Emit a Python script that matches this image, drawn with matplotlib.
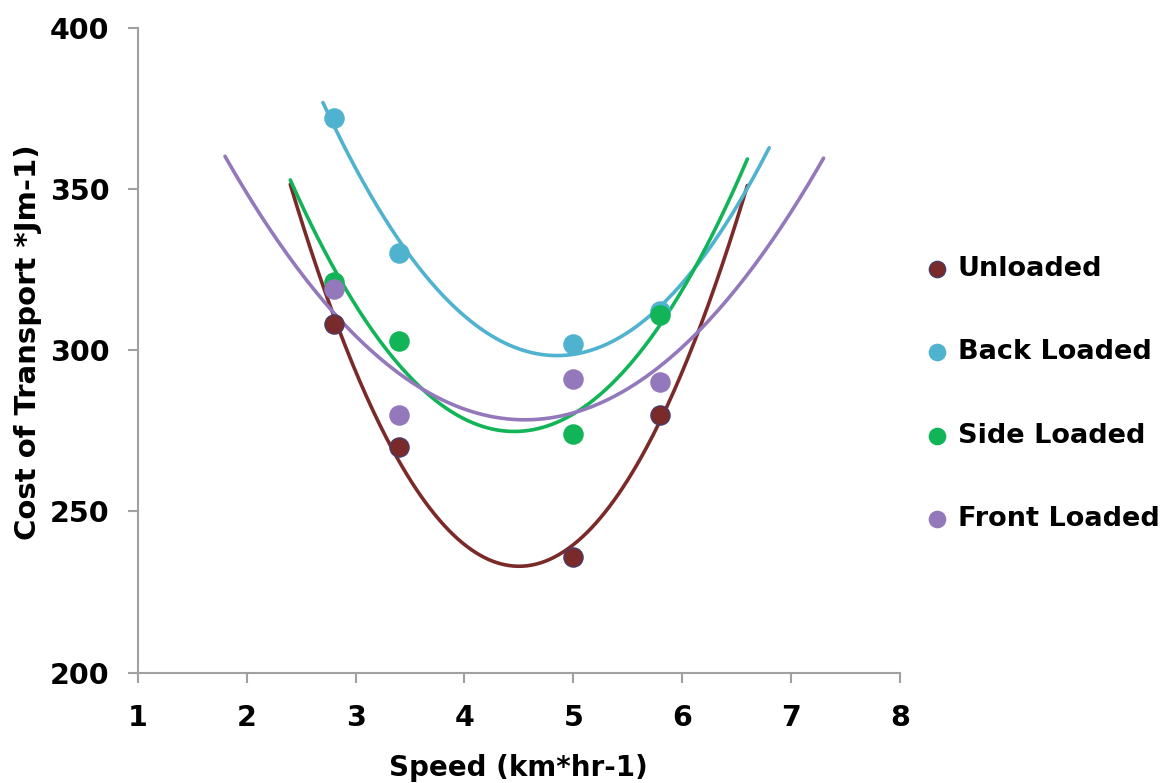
import numpy as np
import matplotlib
matplotlib.use("Agg")
import matplotlib.pyplot as plt

# ---- data ----
series_names = ["Unloaded", "Back Loaded", "Side Loaded", "Front Loaded"]
speed = [2.8, 3.4, 5.0, 5.8]
unloaded = [308, 270, 236, 280]
back_loaded = [372, 330, 302, 312]
side_loaded = [321, 303, 274, 311]
front_loaded = [319, 280, 291, 290]
# trendline extent (speed) for each series
trend_start = [2.4, 2.7, 2.4, 1.8]
trend_end = [6.6, 6.8, 6.6, 7.3]
x_ticks = [1, 2, 3, 4, 5, 6, 7, 8]
y_ticks = [200, 250, 300, 350, 400]

colors = ["#7a2a28", "#4fb3cf", "#12b458", "#9379bb"]
edge_colors = ["#4a3a6a", "#4fb3cf", "#12b458", "#9379bb"]

plt.rcParams['font.family'] = ['DejaVu Sans']
fig = plt.figure(figsize=(11.72, 7.83), dpi=100)
ax = fig.add_axes([0.1177, 0.1409, 0.650, 0.8237])

all_vals = [unloaded, back_loaded, side_loaded, front_loaded]
for i in range(4):
    vals = all_vals[i]
    coef = np.polyfit(speed, vals, 2)
    xs = np.linspace(trend_start[i], trend_end[i], 200)
    ax.plot(xs, np.polyval(coef, xs), color=colors[i], lw=2.6, zorder=2,
            solid_capstyle='round')
for i in range(4):
    ax.scatter(speed, all_vals[i], s=190, color=colors[i], edgecolors=edge_colors[i],
               linewidths=1.0, zorder=3, label=series_names[i])

ax.set_xlim(1, 8)
ax.set_ylim(200, 400)
ax.set_xticks(x_ticks)
ax.set_yticks(y_ticks)
for s in ["top", "right"]:
    ax.spines[s].set_visible(False)
for s in ["left", "bottom"]:
    ax.spines[s].set_color("#a0a0a0")
    ax.spines[s].set_linewidth(1.5)
ax.tick_params(axis='both', colors="#a0a0a0", length=7.5, width=1.5, direction='out')
ax.tick_params(axis='x', labelcolor='black', labelsize=20.5, pad=15)
ax.tick_params(axis='y', labelcolor='black', labelsize=20.5, pad=13)
for lab in ax.get_xticklabels() + ax.get_yticklabels():
    lab.set_fontweight('bold')

ax.set_xlabel("Speed (km*hr-1)", fontsize=20, fontweight='bold')
ax.set_ylabel("Cost of Transport *Jm-1)", fontsize=21, fontweight='bold')
ax.xaxis.set_label_coords(0.5, -0.126)
ax.yaxis.set_label_coords(-0.126, 0.513)

leg = fig.legend(loc='center left', bbox_to_anchor=(0.788, 0.4968), frameon=False,
                 prop={'weight': 'bold', 'size': 19.5}, labelspacing=2.12,
                 handlelength=1.0, handletextpad=0.26, markerscale=0.85,
                 borderaxespad=0, borderpad=0)

fig.savefig("out.png", dpi=100, facecolor='white')
